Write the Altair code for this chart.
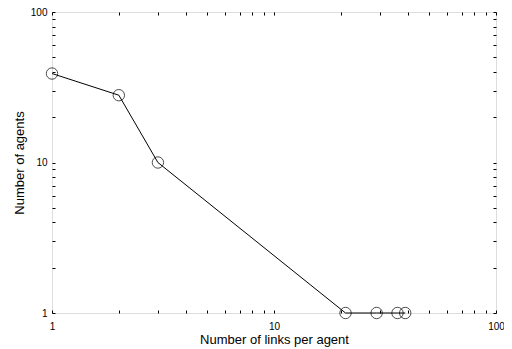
import altair as alt
import pandas as pd

links = [1, 2, 3, 21, 29, 36, 39]
agents = [39, 28, 10, 1, 1, 1, 1]

tick_vals = [1, 2, 3, 4, 5, 6, 7, 8, 9, 10, 20, 30, 40, 50, 60, 70, 80, 90, 100]
label_vals = [1, 10, 100]

df = pd.DataFrame({"links": links, "agents": agents})

W, H = 444, 301
FONT = "Liberation Sans"

xscale = alt.Scale(type="log", domain=[1, 100], nice=False)
yscale = alt.Scale(type="log", domain=[1, 100], nice=False)

base = alt.Chart(df)

line = base.mark_line(color="black", strokeWidth=1).encode(
    x=alt.X("links:Q", scale=xscale,
            axis=alt.Axis(orient="bottom", values=label_vals, ticks=False, domain=False,
                          grid=False, labelPadding=8, labelFontSize=10, labelColor="black",
                          labelFont=FONT, title="Number of links per agent",
                          titleFont=FONT, titleFontSize=13, titleFontWeight="normal",
                          titleColor="black", titlePadding=2, format="~g",
                          labelFlush=False)),
    y=alt.Y("agents:Q", scale=yscale,
            axis=alt.Axis(orient="left", values=label_vals, ticks=False, domain=False,
                          grid=False, labelPadding=5, labelFontSize=10, labelColor="black",
                          labelFont=FONT, title="Number of agents",
                          titleFont=FONT, titleFontSize=13, titleFontWeight="normal",
                          titleColor="black", titlePadding=4, format="~g",
                          labelFlush=False)),
)

points = base.mark_point(shape="circle", size=130, color="black", strokeWidth=1,
                         filled=False).encode(
    x=alt.X("links:Q", scale=xscale, axis=None),
    y=alt.Y("agents:Q", scale=yscale, axis=None),
)

tick_axis_common = dict(values=tick_vals, labels=False, domain=False, grid=False,
                        title=None, tickSize=3, tickColor="black", tickWidth=1)

ticks_a = base.mark_point(opacity=0).encode(
    x=alt.X("links:Q", scale=xscale,
            axis=alt.Axis(orient="top", offset=-H, **tick_axis_common)),
    y=alt.Y("agents:Q", scale=yscale,
            axis=alt.Axis(orient="right", offset=-W, **tick_axis_common)),
)

ticks_b = base.mark_point(opacity=0).encode(
    x=alt.X("links:Q", scale=xscale,
            axis=alt.Axis(orient="bottom", offset=-H, **tick_axis_common)),
    y=alt.Y("agents:Q", scale=yscale,
            axis=alt.Axis(orient="left", offset=-W, **tick_axis_common)),
)

chart = alt.layer(line, ticks_a, ticks_b, points).resolve_axis(
    x="independent", y="independent"
).properties(
    width=W, height=H,
    autosize=alt.AutoSizeParams(type="none"),
    padding={"left": 44, "top": 4, "right": 8, "bottom": 36},
).configure_view(stroke="black", strokeWidth=1.5).configure(background="white")

chart.save("out.html", embed_options={"renderer": "svg", "actions": False})
